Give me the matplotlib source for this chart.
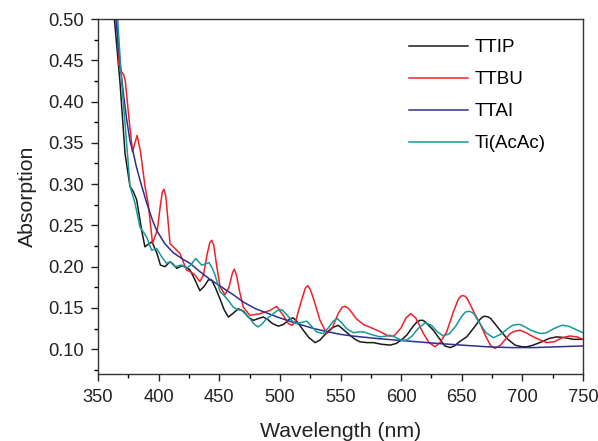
import matplotlib
matplotlib.use("Agg")
import matplotlib.pyplot as plt
from matplotlib.ticker import MultipleLocator

plt.rcParams['font.family'] = ['Liberation Sans', 'DejaVu Sans']

series_names = ["TTIP", "TTBU", "TTAI", "Ti(AcAc)"]

ttip_wl = [362, 363.5, 368.1, 372.3, 376.4, 379.1, 381.9, 386, 388.7, 392, 394.5, 398.4, 401.5, 405.2,
           409.5, 412, 415, 419, 422, 425.9, 430, 434, 437.5, 441, 443.7, 447, 450.6, 454, 457.5, 461,
           465.7, 470, 474, 478.1, 482, 486.3, 490, 494, 498.7, 503, 508.3, 511, 515, 519.3, 524, 529,
           533, 538.6, 543, 548.2, 553, 557.8, 562, 566, 572, 577, 584, 590.9, 596, 600, 604.6, 610,
           613, 615.6, 618, 620, 626.6, 632, 636, 640.4, 644, 648, 654.1, 660, 665, 667, 669.2, 672, 674,
           681.6, 688, 694, 699.5, 704, 709, 716, 722, 728.4, 735, 742, 750]
ttip_abs = [0.53, 0.50, 0.424, 0.337, 0.297, 0.291, 0.281, 0.244, 0.224, 0.228, 0.230, 0.217, 0.202, 0.200,
            0.206, 0.203, 0.198, 0.201, 0.200, 0.196, 0.184, 0.171, 0.176, 0.184, 0.184, 0.174, 0.161, 0.148,
            0.139, 0.143, 0.149, 0.146, 0.139, 0.135, 0.137, 0.139, 0.136, 0.131, 0.128, 0.130, 0.137, 0.138,
            0.132, 0.123, 0.114, 0.108, 0.111, 0.120, 0.126, 0.129, 0.123, 0.117, 0.112, 0.109, 0.108, 0.108,
            0.106, 0.105, 0.107, 0.111, 0.117, 0.128, 0.133, 0.135, 0.135, 0.133, 0.123, 0.112, 0.104, 0.102,
            0.104, 0.109, 0.115, 0.126, 0.136, 0.139, 0.140, 0.139, 0.137, 0.123, 0.112, 0.105, 0.103, 0.103,
            0.105, 0.109, 0.113, 0.115, 0.114, 0.112, 0.112]

ttbu_wl = [364, 365.5, 367.3, 369.5, 371.4, 372.5, 375.5, 378.5, 380.5, 382.3, 385, 388.8, 391.5, 395,
           399, 401.5, 403, 404.3, 406, 409.4, 413.5, 417.6, 423, 426, 430, 434, 437, 440, 442.2, 443.8,
           445.5, 447.5, 450.6, 454.7, 458, 460.8, 462.4, 464.2, 466.5, 469.8, 475.3, 483.6, 491.8, 497.3,
           502.8, 507, 510, 513, 518, 521, 523, 525.2, 528, 533.1, 538.6, 543, 548, 551.5, 553.7, 556, 558,
           563, 568.9, 577, 583, 589.5, 594, 600, 604, 607.9, 612, 618.4, 623, 628, 632, 637.6, 643, 647,
           649, 650.8, 653, 655, 660, 665.1, 670, 674, 677.5, 682, 689.9, 694, 698.1, 703, 709, 715, 720,
           726, 733, 739, 745, 750]
ttbu_abs = [0.53, 0.50, 0.444, 0.436, 0.432, 0.425, 0.38, 0.339, 0.350, 0.359, 0.340, 0.297, 0.275, 0.228,
            0.245, 0.275, 0.290, 0.294, 0.285, 0.228, 0.222, 0.216, 0.196, 0.194, 0.190, 0.182, 0.190, 0.215,
            0.229, 0.232, 0.226, 0.205, 0.176, 0.166, 0.175, 0.192, 0.197, 0.190, 0.172, 0.151, 0.141, 0.143,
            0.147, 0.152, 0.141, 0.131, 0.129, 0.134, 0.160, 0.174, 0.177, 0.172, 0.160, 0.135, 0.119, 0.125,
            0.143, 0.151, 0.152, 0.150, 0.147, 0.137, 0.130, 0.125, 0.121, 0.116, 0.116, 0.126, 0.138, 0.143,
            0.138, 0.119, 0.108, 0.103, 0.108, 0.121, 0.145, 0.160, 0.164, 0.165, 0.164, 0.160, 0.145, 0.131,
            0.115, 0.104, 0.101, 0.105, 0.119, 0.122, 0.123, 0.120, 0.115, 0.111, 0.108, 0.109, 0.114, 0.116,
            0.115, 0.112]

ttai_wl = [362, 364.8, 368, 370.9, 373.5, 376.4, 379.1, 381.5, 384.6, 390, 395, 398.4, 405, 412, 420,
           425.9, 434, 443, 453.3, 461.6, 470, 480, 489.1, 498, 508, 516.6, 528, 540, 550, 560, 580,
           604.6, 630, 650, 670.6, 690, 710, 730, 750]
ttai_abs = [0.53, 0.50, 0.45, 0.41, 0.38, 0.352, 0.338, 0.322, 0.305, 0.278, 0.256, 0.244, 0.228, 0.217,
            0.209, 0.204, 0.194, 0.184, 0.174, 0.166, 0.157, 0.149, 0.144, 0.139, 0.134, 0.130, 0.125,
            0.121, 0.118, 0.116, 0.113, 0.110, 0.107, 0.105, 0.103, 0.102, 0.102, 0.103, 0.104]

tiacac_wl = [362.5, 366.2, 369.5, 374.4, 376.4, 380.5, 384.6, 387.4, 390.1, 394.2, 398.4, 402.5, 406.6,
             409.5, 413.5, 419, 423.1, 427, 430.5, 433, 435.5, 438, 441.5, 444, 446.5, 450.6, 454.7, 458,
             461.6, 465, 468.5, 472, 475.3, 479, 482.2, 485.5, 489.1, 494.6, 498, 501.5, 505, 509.7, 513,
             516.6, 522.1, 526, 530.3, 535.8, 540, 544, 547.4, 551, 555, 560.6, 565, 568.9, 575, 582.6,
             588, 590.9, 596, 600, 604.6, 609, 614, 619.7, 625, 630, 634.9, 640, 645, 650, 653, 655.5, 658,
             660, 665, 670, 676.1, 682, 688, 692, 695.4, 698, 701, 707, 714.6, 720, 726, 732.5, 738, 744, 750]
tiacac_abs = [0.54, 0.50, 0.424, 0.335, 0.297, 0.277, 0.248, 0.242, 0.236, 0.220, 0.222, 0.212, 0.204,
              0.206, 0.200, 0.202, 0.198, 0.203, 0.210, 0.206, 0.202, 0.203, 0.205, 0.199, 0.190, 0.170,
              0.164, 0.158, 0.151, 0.148, 0.147, 0.142, 0.137, 0.130, 0.127, 0.131, 0.137, 0.143, 0.147,
              0.148, 0.143, 0.135, 0.131, 0.132, 0.134, 0.128, 0.121, 0.119, 0.126, 0.134, 0.137, 0.132,
              0.125, 0.120, 0.121, 0.121, 0.118, 0.115, 0.116, 0.117, 0.114, 0.111, 0.111, 0.116, 0.125,
              0.132, 0.129, 0.121, 0.116, 0.119, 0.128, 0.140, 0.145, 0.146, 0.145, 0.143, 0.131, 0.120,
              0.114, 0.118, 0.125, 0.129, 0.130, 0.130, 0.128, 0.123, 0.119, 0.120, 0.125, 0.129, 0.128,
              0.124, 0.120]

x_ticks = [350, 400, 450, 500, 550, 600, 650, 700, 750]
y_ticks = [0.10, 0.15, 0.20, 0.25, 0.30, 0.35, 0.40, 0.45, 0.50]
y_tick_labels = ["0.10", "0.15", "0.20", "0.25", "0.30", "0.35", "0.40", "0.45", "0.50"]

colors = ["#1a1a1a", "#ec2229", "#2d2f93", "#16999a"]

fig = plt.figure(figsize=(5.98, 4.41), dpi=100)
ax = fig.add_axes([98 / 598, 1 - 374 / 441, (583 - 98) / 598, (374 - 19) / 441])

data = [(ttip_wl, ttip_abs), (ttbu_wl, ttbu_abs), (ttai_wl, ttai_abs), (tiacac_wl, tiacac_abs)]
for (wl, ab), name, c in zip(data, series_names, colors):
    ax.plot(wl, ab, color=c, lw=1.1, label=name, solid_joinstyle='round')

ax.set_xlim(350, 750)
ax.set_ylim(0.07, 0.50)
ax.set_xticks(x_ticks)
ax.set_yticks(y_ticks)
ax.set_yticklabels(y_tick_labels)
ax.xaxis.set_minor_locator(MultipleLocator(25))
ax.yaxis.set_minor_locator(MultipleLocator(0.025))
ax.tick_params(which='major', direction='out', length=5, width=1, labelsize=13.2, colors='#222222',
               pad=5.5, top=False, right=False)
ax.tick_params(which='minor', direction='out', length=3, width=1, top=False, right=False)
for s in ax.spines.values():
    s.set_linewidth(1.0)
    s.set_color('#333333')

ax.set_xlabel("Wavelength (nm)", fontsize=15.3, labelpad=12, color='#222222')
ax.set_ylabel("Absorption", fontsize=15.3, labelpad=8, color='#222222')

leg = ax.legend(loc='upper left', bbox_to_anchor=(409 / 598, 1 - 39 / 441), bbox_transform=fig.transFigure,
                frameon=False, fontsize=13.5, handlelength=3.15, handletextpad=0.37, labelspacing=0.8,
                borderaxespad=0, borderpad=0)

fig.savefig("out.png", dpi=100)
